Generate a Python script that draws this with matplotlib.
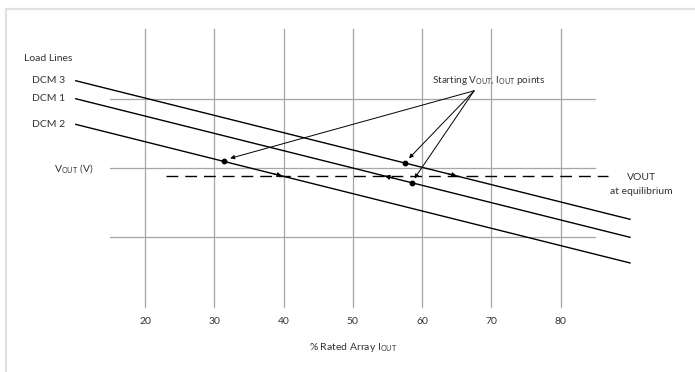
import matplotlib
matplotlib.use("Agg")
from matplotlib import pyplot as plt

plt.rcParams['font.family'] = ['Lato', 'DejaVu Sans']
plt.rcParams['mathtext.fontset'] = 'custom'
plt.rcParams['mathtext.rm'] = 'Lato'
plt.rcParams['mathtext.it'] = 'Lato'

# grid / ticks
x_ticks = [20, 30, 40, 50, 60, 70, 80]
grid_y = [40, 50, 60]

# load lines (start and end of each line)
line_x = [10, 90]
dcm3_y = [62.6, 42.6]
dcm1_y = [60.0, 40.0]
dcm2_y = [56.3, 36.3]
line_names = ["DCM 3", "DCM 1", "DCM 2"]

# starting points on DCM 2, DCM 3, DCM 1
start_x = [31.4, 57.5, 58.6]
start_y = [51.0, 50.7, 47.9]

# equilibrium level
eq_y = 48.85
eq_x = [23.1, 86.8]

# direction arrows where lines cross the equilibrium level
cross_x = [39.8, 54.6, 65.0]
cross_dir = [1, -1, 1]

# callout
callout_from = (67.5, 61.15)
callout_to_x = [32.3, 58.1, 58.9]
callout_to_y = [51.4, 51.4, 48.5]

fig = plt.figure(figsize=(6.95, 3.72), dpi=100)
ax = fig.add_axes([0, 0, 1, 1])
ax.set_xlim(-0.93, 99.38)
ax.set_ylim(20.56, 74.25)
ax.axis('off')

# frame round the picture
fig.add_artist(plt.Line2D([0.009, 0.009], [0, 0.977], color='#dde3e6', lw=1.6))
fig.add_artist(plt.Line2D([0.009, 1.0], [0.977, 0.977], color='#dde3e6', lw=1.6))

txt_c = '#333333'
grid_c = '#a6a6a6'
for x in x_ticks:
    ax.plot([x, x], [30, 70], color=grid_c, lw=0.9)
    ax.text(x, 27.8, str(x), ha='center', va='center', fontsize=7.5, color=txt_c)
for y in grid_y:
    ax.plot([15, 85], [y, y], color=grid_c, lw=0.9)

ax.plot(line_x, dcm3_y, color='black', lw=1.0)
ax.plot(line_x, dcm1_y, color='black', lw=1.0)
ax.plot(line_x, dcm2_y, color='black', lw=1.0)
for name, ys in zip(line_names, [dcm3_y, dcm1_y, dcm2_y]):
    ax.text(8.5, ys[0], name, ha='right', va='center', fontsize=7.5, color=txt_c)

ax.plot(eq_x, [eq_y, eq_y], color='black', lw=1.0, dashes=(8.5, 5))

ax.plot(start_x, start_y, 'o', color='black', ms=3.2)

for cx, d in zip(cross_x, cross_dir):
    ax.annotate('', xy=(cx, eq_y), xytext=(cx - d * 1.2, eq_y + d * 0.3),
                arrowprops=dict(arrowstyle='-|>', color='black', lw=0.8,
                                mutation_scale=7, shrinkA=0, shrinkB=0))

for tx, ty in zip(callout_to_x, callout_to_y):
    ax.annotate('', xy=(tx, ty), xytext=callout_from,
                arrowprops=dict(arrowstyle='-|>', color='black', lw=0.7,
                                mutation_scale=6, shrinkA=0, shrinkB=0))

ax.text(61.4, 62.6, r'Starting V$_{\mathrm{OUT}}$, I$_{\mathrm{OUT}}$ points', ha='left', va='center',
        fontsize=7.2, color=txt_c)
ax.text(2.6, 65.8, 'Load Lines', ha='left', va='center', fontsize=7.5, color=txt_c)
ax.text(12.6, 50.0, r'V$_{\mathrm{OUT}}$ (V)', ha='right', va='center', fontsize=7.5, color=txt_c)
ax.text(89.5, 48.6, 'VOUT', ha='left', va='center', fontsize=7.5, color=txt_c)
ax.text(91.6, 46.6, 'at equilibrium', ha='center', va='center', fontsize=7.5, color=txt_c)
ax.text(50, 24.1, r'% Rated Array I$_{\mathrm{OUT}}$', ha='center', va='center', fontsize=7.5,
        color=txt_c)

fig.savefig('out.png', dpi=100)
